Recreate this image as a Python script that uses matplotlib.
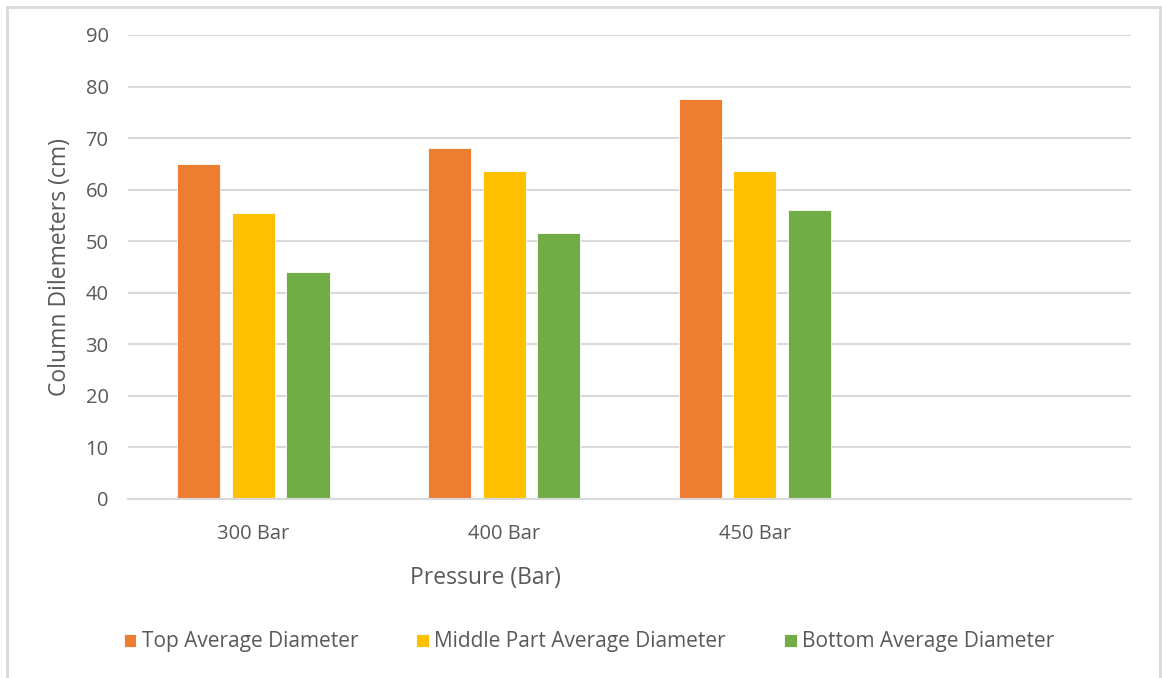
import matplotlib
matplotlib.use("Agg")
import matplotlib.pyplot as plt
from matplotlib.patches import Rectangle
import numpy as np

plt.rcParams['font.family'] = ['Open Sans', 'DejaVu Sans']

categories = ["300 Bar", "400 Bar", "450 Bar", ""]
series_names = ["Top Average Diameter", "Middle Part Average Diameter", "Bottom Average Diameter"]
top_avg = [65.0, 68.0, 77.5]
middle_avg = [55.5, 63.6, 63.6]
bottom_avg = [44.0, 51.5, 56.0]
colors = ["#ED7D31", "#FFC000", "#70AD47"]
y_ticks = [0, 10, 20, 30, 40, 50, 60, 70, 80, 90]

text_color = "#595959"
grid_color = "#D9D9D9"

fig = plt.figure(figsize=(11.63, 6.78), dpi=100)
ax = fig.add_axes([128 / 1163, 1 - 499 / 678, (1131 - 128) / 1163, (499 - 35) / 678])

bar_w = 0.172
step = 0.218
x = np.arange(len(top_avg))
for i, (vals, name, c) in enumerate(zip([top_avg, middle_avg, bottom_avg], series_names, colors)):
    ax.bar(x + (i - 1) * step, vals, width=bar_w, color=c, edgecolor="white",
           linewidth=0.6, label=name, zorder=3)

ax.set_xlim(-0.5, len(categories) - 0.5)
ax.set_ylim(0, 90)
ax.set_xticks(np.arange(len(categories)))
ax.set_xticklabels(categories)
ax.set_yticks(y_ticks)
ax.tick_params(axis='both', length=0, labelsize=14.5, labelcolor=text_color)
ax.tick_params(axis='x', pad=18)
ax.tick_params(axis='y', pad=14)
ax.yaxis.grid(True, color=grid_color, linewidth=1.5, zorder=0)
ax.set_axisbelow(True)
for s in ["top", "right", "left"]:
    ax.spines[s].set_visible(False)
ax.spines["bottom"].set_color(grid_color)
ax.spines["bottom"].set_linewidth(1.5)
ax.spines["bottom"].set_zorder(4)

fig.text(60 / 1163, 1 - 267 / 678, "Column Dilemeters (cm)", rotation=90,
         ha="center", va="center", fontsize=16.5, color=text_color)
fig.text(485 / 1163, 1 - 578 / 678, "Pressure (Bar)", ha="center", va="center",
         fontsize=16.5, color=text_color)

leg = fig.legend(loc="center", bbox_to_anchor=(589 / 1163, 1 - 642 / 678), ncol=3,
                 frameon=False, fontsize=15, handlelength=0.6, handleheight=0.6,
                 handletextpad=0.25, columnspacing=2.8, labelcolor=text_color)

fig.patches.append(Rectangle((7 / 1163, -0.01), (1160 - 7) / 1163, 1 - 7 / 678 + 0.01,
                             transform=fig.transFigure, fill=False,
                             edgecolor=grid_color, linewidth=2))

fig.savefig("out.png", dpi=100)
